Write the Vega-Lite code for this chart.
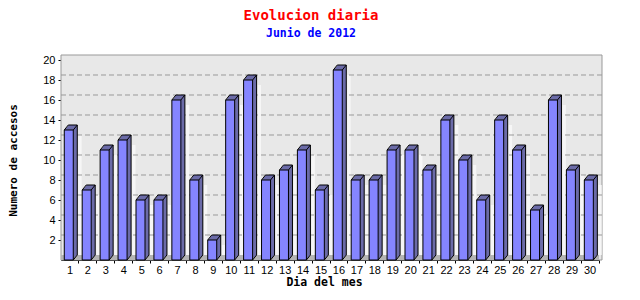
{
  "$schema": "https://vega.github.io/schema/vega-lite/v6.json",
  "width": 538,
  "height": 200,
  "autosize": "none",
  "padding": {"left": 61, "top": 60, "right": 41, "bottom": 40},
  "background": "white",
  "config": {"view": {"stroke": null}},
  "title": {
    "text": "Evolucion diaria",
    "subtitle": "Junio de 2012",
    "font": "DejaVu Sans Mono",
    "fontSize": 14,
    "fontWeight": "bold",
    "color": "#ff0000",
    "subtitleFont": "DejaVu Sans Mono",
    "subtitleFontSize": 11.5,
    "subtitleFontWeight": "bold",
    "subtitleColor": "#0000ff",
    "subtitlePadding": 5,
    "anchor": "middle",
    "dx": -19,
    "offset": 15
  },
  "datasets": {
    "dias": [
      {"day": 1, "accesos": 13}, {"day": 2, "accesos": 7}, {"day": 3, "accesos": 11},
      {"day": 4, "accesos": 12}, {"day": 5, "accesos": 6}, {"day": 6, "accesos": 6},
      {"day": 7, "accesos": 16}, {"day": 8, "accesos": 8}, {"day": 9, "accesos": 2},
      {"day": 10, "accesos": 16}, {"day": 11, "accesos": 18}, {"day": 12, "accesos": 8},
      {"day": 13, "accesos": 9}, {"day": 14, "accesos": 11}, {"day": 15, "accesos": 7},
      {"day": 16, "accesos": 19}, {"day": 17, "accesos": 8}, {"day": 18, "accesos": 8},
      {"day": 19, "accesos": 11}, {"day": 20, "accesos": 11}, {"day": 21, "accesos": 9},
      {"day": 22, "accesos": 14}, {"day": 23, "accesos": 10}, {"day": 24, "accesos": 6},
      {"day": 25, "accesos": 14}, {"day": 26, "accesos": 11}, {"day": 27, "accesos": 5},
      {"day": 28, "accesos": 16}, {"day": 29, "accesos": 9}, {"day": 30, "accesos": 8}
    ],
    "grid": [{"v": 2}, {"v": 4}, {"v": 6}, {"v": 8}, {"v": 10}, {"v": 12}, {"v": 14}, {"v": 16}, {"v": 18}],
    "one": [{"k": 1}]
  },
  "data": {"name": "dias"},
  "resolve": {"axis": {"x": "independent", "y": "independent"}},
  "layer": [
    {
      "data": {"name": "one"},
      "mark": {"type": "rect", "fill": "#e8e8e8", "stroke": "#999999", "strokeWidth": 1, "xOffset": 3, "x2Offset": 5, "yOffset": -5},
      "encoding": {
        "y": {"datum": 20, "type": "quantitative", "axis": null, "scale": {"domain": [0, 20], "nice": false}},
        "y2": {"datum": 0}
      }
    },
    {
      "data": {"name": "one"},
      "mark": {"type": "rect", "fill": "#b4b4b4", "xOffset": 0, "x2Offset": 5, "yOffset": -5},
      "encoding": {
        "y": {"datum": 0, "type": "quantitative", "axis": null, "scale": {"domain": [0, 20], "nice": false}},
        "y2": {"datum": 0}
      }
    },
    {
      "mark": {"type": "bar", "width": 3.4, "fill": "#f6f6f6", "xOffset": 10, "yOffset": 5, "y2Offset": -5},
      "encoding": {
        "x": {"field": "day", "type": "ordinal", "scale": {"paddingInner": 0, "paddingOuter": 0},
          "axis": {"orient": "bottom", "labels": false, "ticks": true, "tickSize": 3, "tickColor": "black", "tickWidth": 1, "bandPosition": 1, "domain": false, "grid": false, "title": null}},
        "y": {"field": "accesos", "type": "quantitative", "axis": null, "scale": {"domain": [0, 20], "nice": false}},
        "y2": {"datum": 0}
      }
    },
    {
      "data": {"name": "grid"},
      "mark": {"type": "rule", "stroke": "#999999", "strokeWidth": 1, "strokeDash": [5, 3], "xOffset": 3, "x2Offset": 5, "yOffset": -5},
      "encoding": {
        "y": {"field": "v", "type": "quantitative", "axis": null, "scale": {"domain": [0, 20], "nice": false}}
      }
    },
    {
      "mark": {"type": "bar", "width": 9, "fill": "#6b6ba8", "xOffset": -0.4, "yOffset": -1, "y2Offset": -1},
      "encoding": {
        "x": {"field": "day", "type": "ordinal", "axis": null, "scale": {"paddingInner": 0, "paddingOuter": 0}},
        "y": {"field": "accesos", "type": "quantitative", "axis": null, "scale": {"domain": [0, 20], "nice": false}},
        "y2": {"datum": 0}
      }
    },
    {
      "mark": {"type": "bar", "width": 9, "fill": "#6b6ba8", "xOffset": 0.4, "yOffset": -2, "y2Offset": -2},
      "encoding": {
        "x": {"field": "day", "type": "ordinal", "axis": null, "scale": {"paddingInner": 0, "paddingOuter": 0}},
        "y": {"field": "accesos", "type": "quantitative", "axis": null, "scale": {"domain": [0, 20], "nice": false}},
        "y2": {"datum": 0}
      }
    },
    {
      "mark": {"type": "bar", "width": 9, "fill": "#6b6ba8", "xOffset": 1.2, "yOffset": -3, "y2Offset": -3},
      "encoding": {
        "x": {"field": "day", "type": "ordinal", "axis": null, "scale": {"paddingInner": 0, "paddingOuter": 0}},
        "y": {"field": "accesos", "type": "quantitative", "axis": null, "scale": {"domain": [0, 20], "nice": false}},
        "y2": {"datum": 0}
      }
    },
    {
      "mark": {"type": "bar", "width": 9, "fill": "#6b6ba8", "xOffset": 2.0, "yOffset": -4, "y2Offset": -4},
      "encoding": {
        "x": {"field": "day", "type": "ordinal", "axis": null, "scale": {"paddingInner": 0, "paddingOuter": 0}},
        "y": {"field": "accesos", "type": "quantitative", "axis": null, "scale": {"domain": [0, 20], "nice": false}},
        "y2": {"datum": 0}
      }
    },
    {
      "mark": {"type": "bar", "width": 9, "fill": "#6b6ba8", "xOffset": 2.8, "yOffset": -5, "y2Offset": -5},
      "encoding": {
        "x": {"field": "day", "type": "ordinal", "axis": null, "scale": {"paddingInner": 0, "paddingOuter": 0}},
        "y": {"field": "accesos", "type": "quantitative", "axis": null, "scale": {"domain": [0, 20], "nice": false}},
        "y2": {"datum": 0}
      }
    },
    {
      "mark": {"type": "bar", "width": 9, "fill": "#8585ff", "stroke": "black", "strokeWidth": 1, "xOffset": -1.2},
      "encoding": {
        "x": {"field": "day", "type": "ordinal", "title": "Dia del mes", "scale": {"paddingInner": 0, "paddingOuter": 0},
          "axis": {"orient": "bottom", "labelAngle": 0, "ticks": false, "domain": true, "domainColor": "black", "labelFont": "Liberation Sans", "labelFontSize": 11, "labelColor": "black", "labelPadding": 4, "grid": false,
            "titleFont": "DejaVu Sans Mono", "titleFontWeight": "bold", "titleFontSize": 11.5, "titleColor": "black", "titlePadding": 1, "titleX": 263}},
        "y": {"field": "accesos", "type": "quantitative", "title": "Numero de accesos", "scale": {"domain": [0, 20], "nice": false},
          "axis": {"orient": "left", "values": [2, 4, 6, 8, 10, 12, 14, 16, 18, 20], "tickSize": 3, "tickColor": "black", "domainColor": "black", "labelFont": "Liberation Sans", "labelFontSize": 11, "labelColor": "black", "labelPadding": 3, "grid": false,
            "titleFont": "DejaVu Sans Mono", "titleFontWeight": "bold", "titleFontSize": 11, "titleColor": "black", "titlePadding": 24}},
        "y2": {"datum": 0}
      }
    },
    {
      "mark": {"type": "rule", "color": "black", "strokeWidth": 1, "xOffset": -5.7, "x2Offset": -1.7, "y2Offset": -5},
      "encoding": {
        "x": {"field": "day", "type": "ordinal", "bandPosition": 0.5, "axis": null, "scale": {"paddingInner": 0, "paddingOuter": 0}},
        "x2": {"field": "day", "bandPosition": 0.5},
        "y": {"field": "accesos", "type": "quantitative", "axis": null, "scale": {"domain": [0, 20], "nice": false}},
        "y2": {"field": "accesos"}
      }
    },
    {
      "mark": {"type": "rule", "color": "black", "strokeWidth": 1, "xOffset": -1.7, "x2Offset": 7.3, "yOffset": -5, "y2Offset": -5},
      "encoding": {
        "x": {"field": "day", "type": "ordinal", "bandPosition": 0.5, "axis": null, "scale": {"paddingInner": 0, "paddingOuter": 0}},
        "x2": {"field": "day", "bandPosition": 0.5},
        "y": {"field": "accesos", "type": "quantitative", "axis": null, "scale": {"domain": [0, 20], "nice": false}},
        "y2": {"field": "accesos"}
      }
    },
    {
      "mark": {"type": "rule", "color": "black", "strokeWidth": 1, "xOffset": 3.3, "x2Offset": 7.3, "y2Offset": -5},
      "encoding": {
        "x": {"field": "day", "type": "ordinal", "bandPosition": 0.5, "axis": null, "scale": {"paddingInner": 0, "paddingOuter": 0}},
        "x2": {"field": "day", "bandPosition": 0.5},
        "y": {"field": "accesos", "type": "quantitative", "axis": null, "scale": {"domain": [0, 20], "nice": false}},
        "y2": {"field": "accesos"}
      }
    },
    {
      "mark": {"type": "rule", "color": "black", "strokeWidth": 1, "xOffset": 7.3, "x2Offset": 7.3, "yOffset": -5, "y2Offset": -5},
      "encoding": {
        "x": {"field": "day", "type": "ordinal", "bandPosition": 0.5, "axis": null, "scale": {"paddingInner": 0, "paddingOuter": 0}},
        "x2": {"field": "day", "bandPosition": 0.5},
        "y": {"field": "accesos", "type": "quantitative", "axis": null, "scale": {"domain": [0, 20], "nice": false}},
        "y2": {"datum": 0}
      }
    },
    {
      "mark": {"type": "rule", "color": "black", "strokeWidth": 1, "xOffset": 3.3, "x2Offset": 7.3, "y2Offset": -5},
      "encoding": {
        "x": {"field": "day", "type": "ordinal", "bandPosition": 0.5, "axis": null, "scale": {"paddingInner": 0, "paddingOuter": 0}},
        "x2": {"field": "day", "bandPosition": 0.5},
        "y": {"datum": 0, "type": "quantitative", "axis": null, "scale": {"domain": [0, 20], "nice": false}},
        "y2": {"datum": 0}
      }
    }
  ]
}
